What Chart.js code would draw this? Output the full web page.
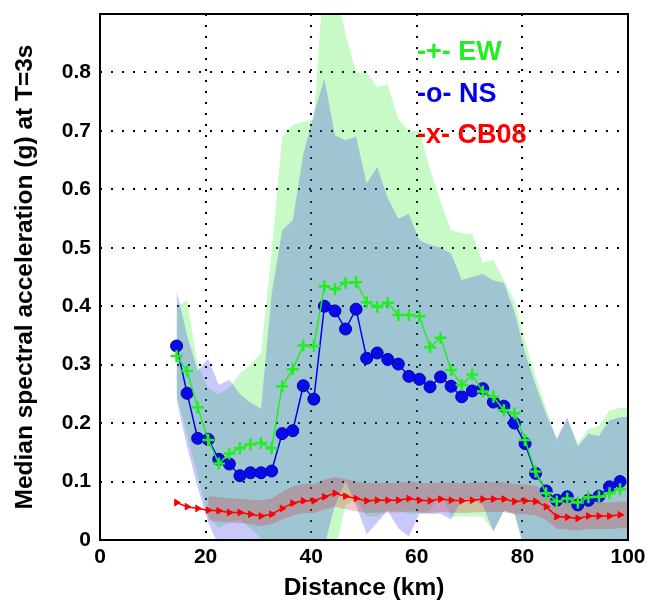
<!DOCTYPE html>
<html>
<head>
<meta charset="utf-8">
<script src="https://cdn.jsdelivr.net/npm/chart.js@4.4.1/dist/chart.umd.min.js"></script>
<style>
  html, body { margin: 0; padding: 0; background: #fff; }
  canvas { display: block; }
</style>
</head>
<body>
<canvas id="medianChart" width="651" height="601"></canvas>
<script>
// distances (km) of the median points
const distKm = [14.5, 16.5, 18.5, 20.5, 22.5, 24.5, 26.5, 28.5, 30.5, 32.5,
  34.5, 36.5, 38.5, 40.5, 42.5, 44.5, 46.5, 48.5, 50.5, 52.5,
  54.5, 56.5, 58.5, 60.5, 62.5, 64.5, 66.5, 68.5, 70.5, 72.5,
  74.5, 76.5, 78.5, 80.5, 82.5, 84.5, 86.5, 88.5, 90.5, 92.5,
  94.5, 96.5, 98.5];
// the shaded ranges run on to the right edge
const bandKm = distKm.concat([100]);

const ewMedian = [0.315, 0.289, 0.227, 0.171, 0.131, 0.148, 0.157, 0.164, 0.166, 0.157,
  0.263, 0.292, 0.333, 0.332, 0.434, 0.429, 0.440, 0.441, 0.407, 0.399,
  0.406, 0.385, 0.385, 0.383, 0.330, 0.346, 0.291, 0.265, 0.283, 0.254,
  0.245, 0.222, 0.217, 0.171, 0.117, 0.080, 0.066, 0.071, 0.064, 0.073,
  0.074, 0.080, 0.087];
const nsMedian = [0.332, 0.251, 0.174, 0.172, 0.138, 0.130, 0.110, 0.115, 0.115, 0.118,
  0.182, 0.187, 0.264, 0.241, 0.400, 0.392, 0.361, 0.395, 0.311, 0.320,
  0.309, 0.301, 0.280, 0.275, 0.262, 0.279, 0.263, 0.245, 0.255, 0.259,
  0.236, 0.229, 0.200, 0.165, 0.114, 0.084, 0.068, 0.074, 0.060, 0.068,
  0.075, 0.091, 0.100];
const cb08Median = [0.064, 0.057, 0.054, 0.051, 0.050, 0.047, 0.047, 0.044, 0.041, 0.044,
  0.054, 0.063, 0.067, 0.067, 0.074, 0.080, 0.075, 0.071, 0.067, 0.068,
  0.068, 0.068, 0.071, 0.068, 0.067, 0.070, 0.068, 0.067, 0.068, 0.070,
  0.070, 0.070, 0.066, 0.067, 0.066, 0.057, 0.040, 0.039, 0.037, 0.041,
  0.041, 0.041, 0.043];

// upper / lower edges of the shaded ranges (on bandKm)
const ewHigh = [0.40, 0.41, 0.30, 0.26, 0.25, 0.26, 0.285, 0.30, 0.32, 0.49,
  0.689, 0.71, 0.715, 0.72, 0.98, 0.95, 0.866, 0.80, 0.80, 0.775,
  0.78, 0.72, 0.70, 0.70, 0.635, 0.58, 0.53, 0.525, 0.524, 0.475,
  0.479, 0.445, 0.41, 0.34, 0.28, 0.225, 0.17, 0.205, 0.165, 0.19,
  0.195, 0.222, 0.226, 0.226];
const ewLow = [0.25, 0.18, 0.11, 0.04, 0.02, 0.03, 0.035, 0.02, 0.003, -0.02,
  -0.02, -0.02, -0.02, -0.02, -0.02, -0.02, 0.06, 0.07, 0.04, 0.04,
  0.05, 0.05, 0.045, 0.046, 0.05, 0.08, 0.04, 0.04, 0.04, 0.04,
  0.015, 0.05, 0.046, -0.02, -0.02, -0.02, -0.02, -0.02, -0.02, -0.02,
  -0.02, -0.02, -0.02, -0.02];
const nsHigh = [0.427, 0.35, 0.29, 0.31, 0.265, 0.274, 0.25, 0.235, 0.225, 0.42,
  0.53, 0.547, 0.66, 0.729, 0.789, 0.692, 0.684, 0.69, 0.61, 0.638,
  0.585, 0.55, 0.558, 0.513, 0.505, 0.50, 0.49, 0.445, 0.45, 0.455,
  0.444, 0.44, 0.39, 0.32, 0.265, 0.215, 0.174, 0.21, 0.16, 0.182,
  0.178, 0.205, 0.21, 0.211];
const nsLow = [0.24, 0.16, 0.09, 0.03, -0.01, -0.02, -0.02, -0.02, -0.02, -0.02,
  -0.02, -0.02, -0.02, -0.02, -0.01, 0.06, 0.10, 0.06, 0.01, 0.03,
  0.05, 0.02, 0.006, 0.045, 0.045, 0.045, 0.035, 0.07, 0.07, 0.06,
  0.015, 0.05, 0.045, -0.02, -0.02, -0.02, -0.02, -0.02, -0.02, -0.02,
  -0.02, -0.02, -0.02, -0.02];
const cb08High = [null, null, null, 0.075, 0.073, 0.071, 0.071, 0.069, 0.068, 0.071,
  0.082, 0.092, 0.096, 0.096, 0.103, 0.108, 0.104, 0.100, 0.097, 0.098,
  0.098, 0.098, 0.100, 0.098, 0.097, 0.099, 0.098, 0.097, 0.098, 0.099,
  0.099, 0.099, 0.096, 0.095, 0.093, 0.084, 0.066, 0.064, 0.062, 0.064,
  0.064, 0.064, 0.066, 0.066];
const cb08Low = [null, null, null, 0.034, 0.032, 0.030, 0.029, 0.027, 0.024, 0.027,
  0.035, 0.042, 0.046, 0.046, 0.052, 0.057, 0.053, 0.049, 0.046, 0.047,
  0.047, 0.047, 0.049, 0.047, 0.046, 0.048, 0.047, 0.046, 0.047, 0.048,
  0.048, 0.048, 0.044, 0.044, 0.042, 0.034, 0.019, 0.018, 0.016, 0.019,
  0.019, 0.019, 0.020, 0.021];

const xTicks = [0, 20, 40, 60, 80, 100];
const yTicks = [0, 0.1, 0.2, 0.3, 0.4, 0.5, 0.6, 0.7, 0.8];

const legendItems = [
  { text: '-+- EW', color: '#22ee22' },
  { text: '-o- NS', color: '#0000ee' },
  { text: '-x- CB08', color: '#ff0000' }
];

const FONT = '"Liberation Sans", Arial, Helvetica, sans-serif';

const pts = (xs, ys) => xs.map((x, i) => ({ x: x, y: ys[i] })).filter(p => p.y !== null);

const band = (label, data, color, fill) => ({
  label: label,
  data: data,
  pointRadius: 0,
  borderWidth: 0,
  borderColor: 'rgba(0,0,0,0)',
  backgroundColor: color,
  fill: fill
});

// frame round the plot and the in-plot legend text
const frameAndLegend = {
  id: 'frameAndLegend',
  afterDatasetsDraw(chart) {
    const { ctx, chartArea: a } = chart;
    ctx.save();
    ctx.strokeStyle = '#000';
    ctx.lineWidth = 2;
    ctx.strokeRect(a.left, a.top, a.right - a.left, a.bottom - a.top);
    ctx.font = 'bold 27px ' + FONT;
    ctx.textBaseline = 'middle';
    ctx.textAlign = 'left';
    legendItems.forEach((item, i) => {
      ctx.fillStyle = item.color;
      ctx.fillText(item.text, a.left + 317, a.top + 39 + i * 41.5);
    });
    ctx.restore();
  }
};

new Chart(document.getElementById('medianChart'), {
  type: 'line',
  data: {
    datasets: [
      {
        label: 'EW',
        data: pts(distKm, ewMedian),
        borderColor: '#22ee22',
        borderWidth: 1.5,
        pointStyle: 'cross',
        pointRadius: 6,
        pointBorderWidth: 2.5,
        pointBorderColor: '#22ee22',
        fill: false
      },
      {
        label: 'NS',
        data: pts(distKm, nsMedian),
        borderColor: '#0000ee',
        borderWidth: 1.5,
        pointStyle: 'circle',
        pointRadius: 6,
        pointBorderWidth: 1,
        pointBackgroundColor: '#0a0ae8',
        pointBorderColor: '#0000b0',
        fill: false
      },
      {
        label: 'CB08',
        data: pts(distKm, cb08Median),
        borderColor: '#ff0000',
        borderWidth: 1.5,
        pointStyle: 'triangle',
        pointRotation: 90,
        pointRadius: 3.8,
        pointBorderWidth: 1,
        pointBackgroundColor: '#ff0000',
        pointBorderColor: '#ff0000',
        fill: false
      },
      band('CB08 high', pts(bandKm, cb08High), 'rgba(200, 40, 40, 0.26)', '+1'),
      band('CB08 low', pts(bandKm, cb08Low), 'rgba(0,0,0,0)', false),
      band('NS high', pts(bandKm, nsHigh), 'rgba(51, 51, 236, 0.27)', '+1'),
      band('NS low', pts(bandKm, nsLow), 'rgba(0,0,0,0)', false),
      band('EW high', pts(bandKm, ewHigh), 'rgba(0, 230, 0, 0.22)', '+1'),
      band('EW low', pts(bandKm, ewLow), 'rgba(0,0,0,0)', false)
    ]
  },
  options: {
    responsive: false,
    animation: false,
    devicePixelRatio: 1,
    layout: { padding: { top: 14, right: 23, left: 0, bottom: 0 } },
    plugins: {
      legend: { display: false },
      tooltip: { enabled: false }
    },
    elements: { line: { tension: 0 } },
    scales: {
      x: {
        type: 'linear',
        min: 0,
        max: 100,
        afterFit: s => { s.height = 61; s.paddingLeft = 0; s.paddingRight = 0; },
        afterBuildTicks: s => { s.ticks = xTicks.map(v => ({ value: v })); },
        ticks: {
          font: { family: FONT, size: 21, weight: 'bold' },
          color: '#000',
          padding: 5,
          maxRotation: 0,
          callback: v => String(v)
        },
        grid: { color: '#000', lineWidth: 2, drawTicks: false },
        border: { display: false, dash: [2, 9] },
        title: {
          display: true,
          text: 'Distance (km)',
          color: '#000',
          font: { family: FONT, size: 24.5, weight: 'bold', lineHeight: 1 },
          padding: { top: 0, bottom: 0.5 }
        }
      },
      y: {
        type: 'linear',
        min: 0,
        max: 0.9,
        afterFit: s => { s.width = 100; s.paddingTop = 0; s.paddingBottom = 0; },
        afterBuildTicks: s => { s.ticks = yTicks.map(v => ({ value: v })); },
        ticks: {
          font: { family: FONT, size: 21, weight: 'bold' },
          color: '#000',
          padding: 9,
          callback: v => (v === 0 ? '0' : v.toFixed(1))
        },
        grid: { color: '#000', lineWidth: 2, drawTicks: false },
        border: { display: false, dash: [2, 9] },
        title: {
          display: true,
          text: 'Median spectral acceleration (g) at T=3s',
          color: '#000',
          font: { family: FONT, size: 24.5, weight: 'bold', lineHeight: 1 },
          padding: { top: 13, bottom: 0 }
        }
      }
    }
  },
  plugins: [frameAndLegend]
});
</script>
</body>
</html>
